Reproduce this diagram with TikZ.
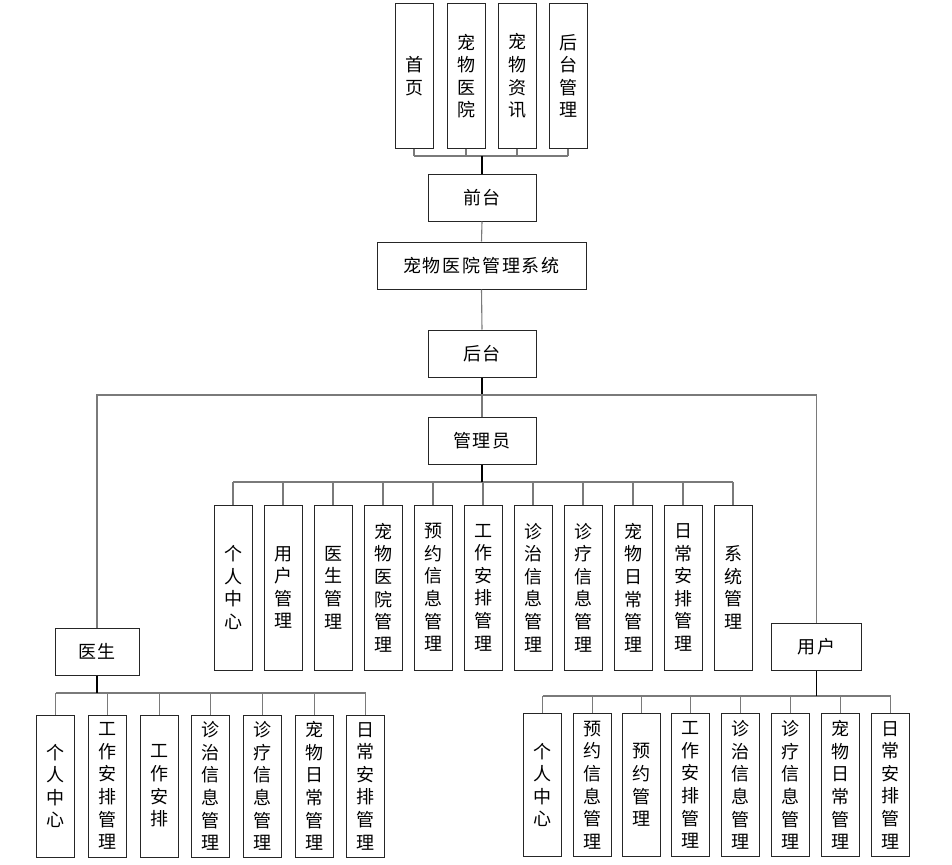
\documentclass[tikz,border=0pt]{standalone}
\usepackage{fontspec}
\newfontfamily\cjk{Noto Sans CJK SC}
\newfontfamily\cjkwide[LetterSpace=10]{Noto Sans CJK SC}
\usetikzlibrary{calc}
\tikzset{
  box/.style={draw=black!85, line width=1pt, fill=white, inner sep=0pt,
    font=\cjk\fontsize{18}{22.6}\selectfont, align=center},
  wide/.style={box, font=\cjkwide\fontsize{18}{22.6}\selectfont,
    minimum width=108pt, minimum height=47pt},
  tall/.style={box, minimum width=38pt, minimum height=#1},
  link/.style={draw=black!52, line width=1.1pt},
  stem/.style={draw=black, line width=1.6pt}
}

\begin{document}
\begin{tikzpicture}[x=1pt, y=-1pt]
		%%%%% START %%%%%
		\useasboundingbox (0,0) rectangle (952,864);
		
		% front pages
		\node[tall=144pt] (t1) at (414, 76) {首\\页};
		\node[tall=144pt] (t2) at (466, 76) {宠\\物\\医\\院};
		\node[tall=144pt] (t3) at (517, 76) {宠\\物\\资\\讯};
		\node[tall=144pt] (t4) at (568, 76) {后\\台\\管\\理};
		
		\node[wide] (qiantai) at (482, 197.5) {前台};
		\node[wide, minimum width=209pt] (xitong) at (481.5, 265.5) {宠物医院管理系统};
		\node[wide] (houtai) at (482, 353.5) {后台};
		\node[wide] (admin) at (482, 440.5) {管理员};
		\node[wide, minimum width=84pt] (doctor) at (97, 651.5) {医生};
		\node[wide, minimum width=90pt] (user) at (816.5, 647) {用户};
		
		% admin modules
		\foreach \txt [count=\i] in {个\\人\\中\\心, 用\\户\\管\\理, 医\\生\\管\\理,
		    宠\\物\\医\\院\\管\\理, 预\\约\\信\\息\\管\\理, 工\\作\\安\\排\\管\\理,
		    诊\\治\\信\\息\\管\\理, 诊\\疗\\信\\息\\管\\理, 宠\\物\\日\\常\\管\\理,
		    日\\常\\安\\排\\管\\理, 系\\统\\管\\理}
		  \node[tall=165pt] (a\i) at ({183+50*\i}, 587.5) {\txt};
		
		% doctor modules
		\foreach \txt [count=\i] in {个\\人\\中\\心, 工\\作\\安\\排\\管\\理, 工\\作\\安\\排,
		    诊\\治\\信\\息\\管\\理, 诊\\疗\\信\\息\\管\\理, 宠\\物\\日\\常\\管\\理,
		    日\\常\\安\\排\\管\\理}
		  \node[tall=142pt] (d\i) at ({4+51.7*\i}, 786) {\txt};
		
		% user modules
		\foreach \txt/\xx [count=\i] in {个\\人\\中\\心/542.7, 预\\约\\信\\息\\管\\理/592.7,
		    预\\约\\管\\理/641.3, 工\\作\\安\\排\\管\\理/690.7, 诊\\治\\信\\息\\管\\理/740.7,
		    诊\\疗\\信\\息\\管\\理/790.7, 宠\\物\\日\\常\\管\\理/840.7, 日\\常\\安\\排\\管\\理/890.7}
		  \node[tall=143pt] (u\i) at (\xx, 785) {\txt};
		
		% buses
		\coordinate (topbus) at (482, 156);
		\coordinate (split) at (482, 395);
		\coordinate (abus) at (482, 482);
		\coordinate (dbus) at (97, 693);
		\coordinate (ubus) at (816.5, 696);
		
		\foreach \i in {1,...,4}
		  \draw[link] (t\i.south) -- (t\i.south |- topbus);
		\draw[link] (t1.south |- topbus) -- (t4.south |- topbus);
		\draw[stem] (qiantai.north) -- (topbus);
		
		\draw[link] (qiantai.south) -- (xitong.north);
		\draw[link] (xitong.south) -- (houtai.north);
		\draw[stem] (houtai.south) -- (split);
		\draw[link] (split) -- (admin.north);
		\draw[link] (doctor.north) |- (split) -| (user.north);
		
		\foreach \i in {1,...,11}
		  \draw[link] (a\i.north) -- (a\i.north |- abus);
		\draw[link] (a1.north |- abus) -- (a11.north |- abus);
		\draw[stem] (admin.south) -- (abus);
		
		\foreach \i in {1,...,7}
		  \draw[link] (d\i.north) -- (d\i.north |- dbus);
		\draw[link] (d1.north |- dbus) -- (d7.north |- dbus);
		\draw[stem] (doctor.south) -- (dbus);
		
		\foreach \i in {1,...,8}
		  \draw[link] (u\i.north) -- (u\i.north |- ubus);
		\draw[link] (u1.north |- ubus) -- (u8.north |- ubus);
		\draw[stem] (user.south) -- (ubus);
		%%%%% END %%%%%
\end{tikzpicture}
\end{document}
